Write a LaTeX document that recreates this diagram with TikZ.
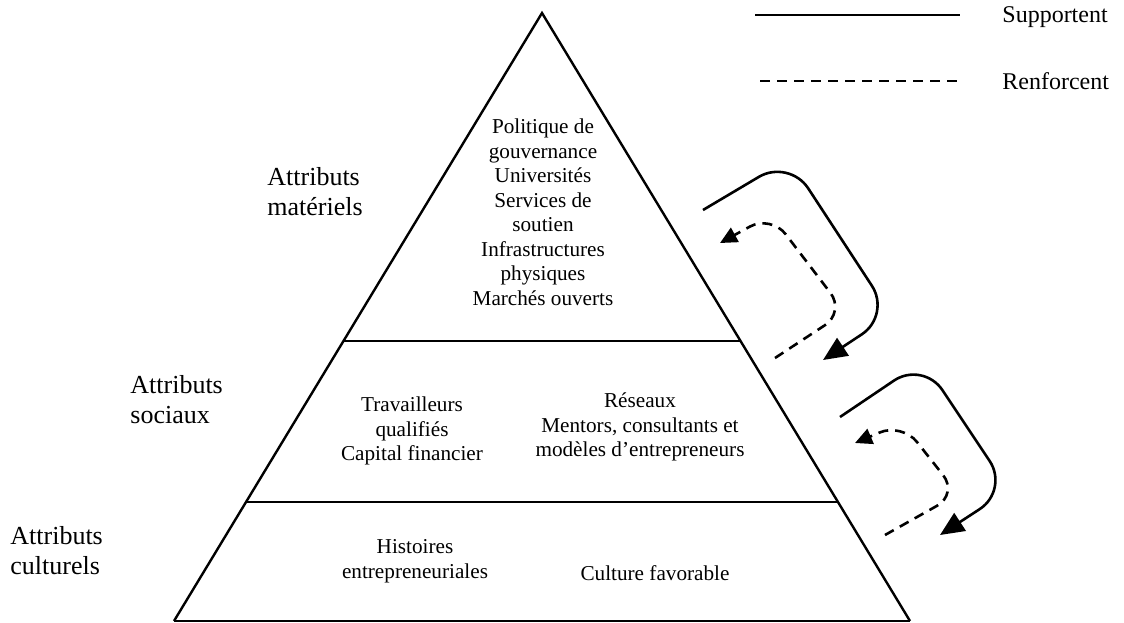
\documentclass[tikz,border=0pt]{standalone}
\usepackage{fontspec}
\setmainfont{Liberation Serif}
\usetikzlibrary{arrows.meta,calc}

\begin{document}
\begin{tikzpicture}[
    x=0.5pt, y=-0.5pt,
    side/.style={line width=1.2pt, line join=miter},
    divider/.style={line width=0.7pt},
    content/.style={inner sep=0pt, align=center, font=\fontsize{10.6}{12.25}\selectfont},
    attribut/.style={inner sep=0pt, anchor=west, align=left, font=\fontsize{13}{15}\selectfont},
    legende/.style={inner sep=0pt, anchor=west, font=\fontsize{12}{14}\selectfont},
    supporte/.style={-{Triangle[length=12pt,width=10.5pt]}, line width=1.3pt, rounded corners=17.5pt},
    renforce/.style={-{Triangle[length=8.5pt,width=8pt]}, line width=1.3pt, dash pattern=on 5pt off 3.5pt, rounded corners=12pt}
]
    \useasboundingbox (0,0) rectangle (1124,622);

    % Pyramid
    \coordinate (apex) at (542,13);
    \coordinate (bl) at (174,621);
    \coordinate (br) at (910,621);
    \coordinate (l1) at ($(apex)!0.5395!(bl)$);
    \coordinate (r1) at ($(apex)!0.5395!(br)$);
    \coordinate (l2) at ($(apex)!0.8043!(bl)$);
    \coordinate (r2) at ($(apex)!0.8043!(br)$);
    \draw[side] (bl) -- (apex) -- (br);
    \draw[divider] (bl) -- (br);
    \draw[divider] (l1) -- (r1);
    \draw[divider] (l2) -- (r2);

    % Level contents
    \node[content] (materiels) at (543,212) {Politique de\\gouvernance\\Universités\\Services de\\soutien\\Infrastructures\\physiques\\Marchés ouverts};
    \node[content] (travailleurs) at (412,431) {Travailleurs\\qualifiés\\Capital financier};
    \node[content] (reseaux) at (640,427) {Réseaux\\Mentors, consultants et\\modèles d’entrepreneurs};
    \node[content] (histoires) at (415,561) {Histoires\\entrepreneuriales};
    \node[content] (culture) at (655,573) {Culture favorable};

    % Level labels
    \node[attribut] (attmat) at (267,192) {Attributs\\matériels};
    \node[attribut] (attsoc) at (130,400) {Attributs\\sociaux};
    \node[attribut] (attcul) at (10,551) {Attributs\\culturels};

    % Legend
    \coordinate (sup1) at (755,15);
    \coordinate (sup2) at (960,15);
    \coordinate (ren1) at (760,81);
    \coordinate (ren2) at (963,81);
    \draw[line width=1.2pt] (sup1) -- (sup2);
    \draw[line width=1.2pt, dash pattern=on 5pt off 3.5pt] (ren1) -- (ren2);
    \node[legende] (supportent) at (1002,17) {Supportent};
    \node[legende] (renforcent) at (1002,81) {Renforcent};

    % Loops between levels
    \coordinate (s1a) at (703,210);
    \coordinate (s1b) at (823,360);
    \coordinate (d1a) at (775,358);
    \coordinate (d1b) at (720,243);
    \coordinate (s2a) at (840,417);
    \coordinate (s2b) at (940,535);
    \coordinate (d2a) at (885,535);
    \coordinate (d2b) at (855,443);
    \draw[supporte] (s1a) -- (789,159) -- (891,315) -- (s1b);
    \draw[renforce] (d1a) -- (845,312) -- (771,215) -- (d1b);
    \draw[supporte] (s2a) -- (923,361) -- (1009,490) -- (s2b);
    \draw[renforce] (d2a) -- (958,494) -- (902,423) -- (d2b);
\end{tikzpicture}
\end{document}
